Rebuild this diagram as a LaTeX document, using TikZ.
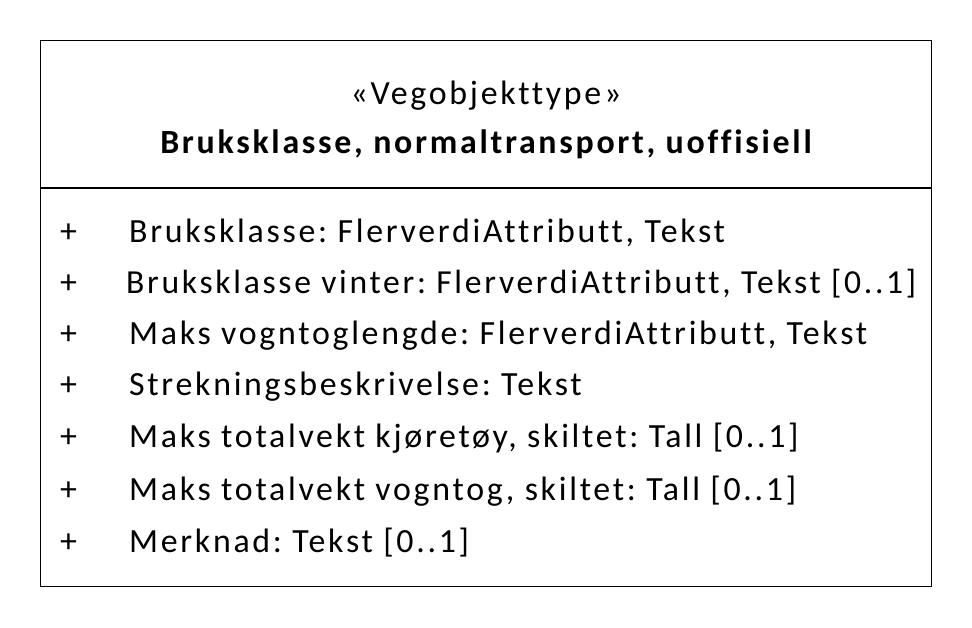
\documentclass[tikz,border=0pt]{standalone}
\usepackage{fontspec}
\setmainfont{Carlito}[Ligatures=NoCommon,LetterSpace=8]
\frenchspacing
\begin{document}
\begin{tikzpicture}[x=1bp,y=-1bp,
  frame/.style={draw=black,line width=1.3bp},
  txt/.style={inner sep=0pt,font=\fontsize{34}{40}\selectfont},
  attr/.style={txt,anchor=base west},
  head/.style={txt,anchor=base}]
\useasboundingbox (0,0) rectangle (972,628);
% class box and compartment separator
\draw[frame] (40.5,40.5) rectangle (931.5,586.5);
\draw[frame] (40.5,188) -- (931.5,188);
% header
\node[head] (stereo) at (486,104.3) {«Vegobjekttype»};
\node[head,font=\fontsize{34}{40}\selectfont\bfseries] (title) at (486,153.5) {Bruksklasse, normaltransport, uoffisiell};
% attributes
\foreach \i/\y/\t in {
  1/242.3/{Bruksklasse: FlerverdiAttributt, Tekst},
  3/344/{Maks vogntoglengde: FlerverdiAttributt, Tekst},
  4/395/{Strekningsbeskrivelse: Tekst},
  5/447.5/{Maks totalvekt kjøretøy, skiltet: Tall [0..1]},
  6/500/{Maks totalvekt vogntog, skiltet: Tall [0..1]},
  7/552.3/{Merknad: Tekst [0..1]}} {
  \node[attr] (p\i) at (60,\y) {+};
  \node[attr] (a\i) at (129,\y) {\t};
}
\node[attr] (p2) at (60,293) {+};
\node[attr] (a2) at (126,293) {\resizebox{790bp}{!}{Bruksklasse vinter: FlerverdiAttributt, Tekst [0..1]}};
\end{tikzpicture}
\end{document}
